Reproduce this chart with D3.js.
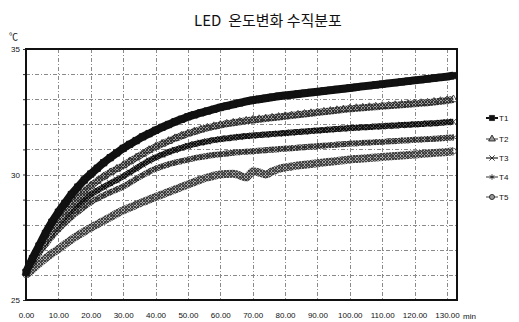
<!DOCTYPE html>
<html>
<head>
<meta charset="utf-8">
<script src="https://cdn.jsdelivr.net/npm/d3@7/dist/d3.min.js"></script>
<style>
  html, body { margin: 0; padding: 0; background: #fff; }
  svg { display: block; }
  text { font-family: "Noto Sans CJK KR", "Noto Sans", sans-serif; fill: #111; }
</style>
</head>
<body>
<svg id="chart" width="519" height="322"></svg>
<script>
// Elapsed time (min), sampled every 2 minutes
const minutes = d3.range(0, 133, 2);

// Measured temperatures (°C) at each sensor height
const T1 = [26.10,26.65,27.15,27.65,28.10,28.50,28.85,29.20,29.50,29.78,30.02,30.25,30.47,30.67,30.86,31.04,31.20,31.35,31.50,31.63,31.76,31.88,31.99,32.10,32.20,32.30,32.38,32.46,32.53,32.60,32.67,32.73,32.79,32.85,32.91,32.96,33.00,33.04,33.08,33.12,33.15,33.18,33.21,33.24,33.27,33.30,33.33,33.36,33.39,33.42,33.45,33.48,33.51,33.54,33.57,33.60,33.63,33.66,33.69,33.72,33.75,33.78,33.81,33.84,33.87,33.90,33.94];
const T2 = [26.10,26.55,27.00,27.42,27.82,28.18,28.50,28.80,29.07,29.32,29.55,29.74,29.92,30.08,30.22,30.36,30.52,30.67,30.82,30.97,31.10,31.22,31.33,31.44,31.54,31.63,31.71,31.79,31.86,31.92,31.97,32.02,32.06,32.10,32.14,32.17,32.20,32.23,32.26,32.29,32.32,32.35,32.38,32.41,32.44,32.47,32.50,32.53,32.56,32.59,32.62,32.64,32.66,32.68,32.70,32.72,32.74,32.76,32.78,32.80,32.82,32.84,32.86,32.89,32.92,32.95,32.99];
const T3 = [26.10,26.50,26.92,27.30,27.66,28.00,28.28,28.54,28.78,29.00,29.20,29.36,29.51,29.65,29.78,29.92,30.08,30.24,30.40,30.55,30.68,30.79,30.89,30.98,31.06,31.14,31.21,31.27,31.32,31.37,31.41,31.44,31.47,31.50,31.53,31.55,31.57,31.59,31.61,31.63,31.65,31.67,31.69,31.71,31.73,31.75,31.77,31.79,31.81,31.83,31.85,31.86,31.88,31.89,31.91,31.92,31.94,31.95,31.97,31.98,32.00,32.01,32.03,32.04,32.06,32.08,32.10];
const T4 = [26.10,26.47,26.85,27.20,27.52,27.80,28.06,28.30,28.51,28.71,28.90,29.04,29.17,29.29,29.40,29.52,29.67,29.82,29.97,30.11,30.23,30.32,30.40,30.47,30.53,30.59,30.65,30.70,30.74,30.78,30.81,30.84,30.87,30.89,30.91,30.93,30.95,30.97,30.99,31.01,31.03,31.05,31.07,31.09,31.11,31.13,31.15,31.17,31.19,31.21,31.23,31.24,31.26,31.27,31.29,31.30,31.32,31.33,31.35,31.36,31.38,31.39,31.41,31.42,31.44,31.46,31.48];
const T5 = [26.00,26.22,26.45,26.66,26.85,27.03,27.22,27.40,27.57,27.73,27.88,28.02,28.16,28.30,28.44,28.57,28.68,28.79,28.90,29.00,29.10,29.20,29.30,29.40,29.50,29.60,29.70,29.80,29.88,29.95,30.00,30.02,30.03,29.96,29.88,30.12,30.08,30.00,30.12,30.22,30.28,30.32,30.36,30.39,30.42,30.45,30.48,30.51,30.54,30.57,30.60,30.62,30.64,30.66,30.68,30.70,30.72,30.74,30.76,30.78,30.80,30.82,30.84,30.86,30.88,30.90,30.93];

const seriesNames = ["T1", "T2", "T3", "T4", "T5"];
const seriesValues = [T1, T2, T3, T4, T5];

const xTicks = d3.range(0, 131, 10);
const yLabelTicks = [25, 30, 35];
const yGridTicks = d3.range(25, 36, 1);

const svg = d3.select("#chart");

// Crosshatch paint used for the dense grey marker bands
const defs = svg.append("defs");
function hatch(id, bg, ink) {
  const p = defs.append("pattern")
    .attr("id", id)
    .attr("patternUnits", "userSpaceOnUse")
    .attr("width", 3).attr("height", 3);
  p.append("rect").attr("width", 3).attr("height", 3).attr("fill", bg);
  p.append("path")
    .attr("d", "M0,0L3,3M3,0L0,3")
    .attr("stroke", ink).attr("stroke-width", 0.9);
}
hatch("hatchMid", "#a0a0a0", "#2a2a2a");
hatch("hatchLight", "#b0b0b0", "#363636");
hatch("hatchDark", "#555", "#0a0a0a");

const x = d3.scaleLinear().domain([0, 133.1]).range([26, 457]);
const y = d3.scaleLinear().domain([25, 35]).range([300, 49]);

// Title and unit
svg.append("text")
  .attr("x", 268).attr("y", 26)
  .attr("text-anchor", "middle")
  .style("font-size", "15px")
  .style("white-space", "pre")
  .text("LED  온도변화 수직분포");

svg.append("text")
  .attr("x", 9).attr("y", 40)
  .style("font-size", "9px")
  .text("℃");

// Grid lines
const grid = svg.append("g")
  .attr("stroke", "#8a8a8a")
  .attr("stroke-width", 1)
  .attr("stroke-dasharray", "4,2,1,2");

grid.selectAll("line.v").data(xTicks.filter(d => d > 0)).join("line")
  .attr("class", "v")
  .attr("x1", d => Math.round(x(d)) + 0.5).attr("x2", d => Math.round(x(d)) + 0.5)
  .attr("y1", y(35)).attr("y2", y(25));

grid.selectAll("line.h").data(yGridTicks.filter(d => d > 25 && d < 35)).join("line")
  .attr("class", "h")
  .attr("x1", x(0)).attr("x2", x.range()[1])
  .attr("y1", d => Math.round(y(d)) + 0.5).attr("y2", d => Math.round(y(d)) + 0.5);

// Axes
const xAxis = d3.axisBottom(x)
  .tickValues(xTicks)
  .tickSize(0)
  .tickPadding(12)
  .tickFormat(d3.format(".2f"));

svg.append("g")
  .attr("transform", `translate(0,${y(25)})`)
  .call(xAxis)
  .call(g => g.select(".domain").remove())
  .call(g => g.selectAll("text")
    .style("font-size", "8px")
    .style("font-family", "'Liberation Sans', Arial, sans-serif")
    .attr("fill", "#222"));

svg.append("text")
  .attr("x", 463).attr("y", 319)
  .style("font-size", "8px")
  .style("font-family", "'Liberation Sans', Arial, sans-serif")
  .text("min");

const yAxis = d3.axisLeft(y)
  .tickValues(yGridTicks)
  .tickSize(3)
  .tickPadding(3)
  .tickFormat(d => yLabelTicks.includes(d) ? d : "");

svg.append("g")
  .attr("transform", `translate(${x(0)},0)`)
  .call(yAxis)
  .call(g => g.select(".domain").remove())
  .call(g => g.selectAll("line").attr("stroke", "#333"))
  .call(g => g.selectAll("text")
    .style("font-size", "8px")
    .style("font-family", "'Liberation Sans', Arial, sans-serif")
    .attr("fill", "#222"));

// Plot frame
svg.append("rect")
  .attr("x", x(0)).attr("y", y(35))
  .attr("width", x.range()[1] - x(0))
  .attr("height", y(25) - y(35))
  .attr("fill", "none")
  .attr("stroke", "#111")
  .attr("stroke-width", 2);

// Series styling
const styles = {
  T1: { band: "#111", width: 8, marker: "square", fill: "#111", stroke: "#111", size: 40, legendLine: "#111" },
  T2: { band: "url(#hatchMid)", width: 7, marker: "triangle", fill: "none", stroke: "#2a2a2a", size: 26, legendLine: "#555" },
  T3: { band: "url(#hatchDark)", width: 6, marker: "cross", fill: "none", stroke: "#0a0a0a", size: 26, legendLine: "#222" },
  T4: { band: "url(#hatchMid)", width: 6, marker: "asterisk", fill: "none", stroke: "#2a2a2a", size: 26, legendLine: "#555" },
  T5: { band: "url(#hatchLight)", width: 8, marker: "circle", fill: "none", stroke: "#3a3a3a", size: 26, legendLine: "#666" }
};

const symbolOf = {
  square: d3.symbolSquare,
  triangle: d3.symbolTriangle,
  cross: d3.symbolX,
  asterisk: d3.symbolAsterisk,
  circle: d3.symbolCircle
};

const line = d3.line().x(d => x(d[0])).y(d => y(d[1])).curve(d3.curveMonotoneX);

// Draw from lowest to highest so the top curve sits above
for (let i = seriesNames.length - 1; i >= 0; i--) {
  const name = seriesNames[i];
  const st = styles[name];
  const pts = minutes.map((m, j) => [m, seriesValues[i][j]]);
  const g = svg.append("g").attr("class", "series " + name);
  g.append("path")
    .datum(pts)
    .attr("fill", "none")
    .attr("stroke", st.band)
    .attr("stroke-width", st.width)
    .attr("stroke-linejoin", "round")
    .attr("d", line);
  g.selectAll("path.mk").data(pts).join("path")
    .attr("class", "mk")
    .attr("transform", d => `translate(${x(d[0])},${y(d[1])})`)
    .attr("d", d3.symbol(symbolOf[st.marker], st.size)())
    .attr("fill", st.fill)
    .attr("stroke", st.stroke)
    .attr("stroke-width", 0.8);
}

// Legend
const legendY = [118, 139, 158, 177, 197];
const legend = svg.append("g");
seriesNames.forEach((name, i) => {
  const st = styles[name];
  const ly = legendY[i];
  legend.append("line")
    .attr("x1", 486).attr("x2", 498)
    .attr("y1", ly).attr("y2", ly)
    .attr("stroke", st.legendLine)
    .attr("stroke-width", name === "T1" ? 2 : 1.2);
  legend.append("path")
    .attr("transform", `translate(492,${ly})`)
    .attr("d", d3.symbol(symbolOf[st.marker], name === "T1" ? 26 : 20)())
    .attr("fill", name === "T1" ? "#111" : (name === "T2" || name === "T5" ? "#999" : "none"))
    .attr("stroke", "#222")
    .attr("stroke-width", 0.9);
  legend.append("text")
    .attr("x", 499).attr("y", ly + 3)
    .style("font-size", "8px")
    .style("font-family", "'Liberation Sans', Arial, sans-serif")
    .text(name);
});
</script>
</body>
</html>
